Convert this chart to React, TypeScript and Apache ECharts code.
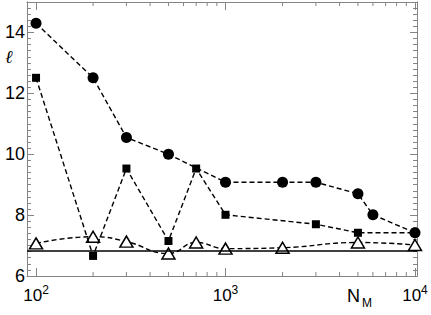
import React, { useEffect, useRef } from 'react';
import * as echarts from 'echarts';

// Data
const nCircles = [100, 200, 300, 500, 1000, 2000, 3000, 5000, 6000, 10000];
const lCircles = [14.3, 12.51, 10.55, 10.0, 9.08, 9.08, 9.08, 8.7, 8.01, 7.42];
const nSquares = [100, 200, 300, 500, 700, 1000, 3000, 5000, 10000];
const lSquares = [12.51, 6.66, 9.53, 7.15, 9.53, 8.01, 7.7, 7.42, 7.42];
const nTriangles = [100, 200, 300, 500, 700, 1000, 2000, 5000, 10000];
const lTriangles = [7.07, 7.29, 7.13, 6.74, 7.1, 6.9, 6.93, 7.1, 7.02];
const referenceLevel = 6.83;
const yTickLabels = [6, 8, 10, 12, 14];
const xMinorTicks = [200, 300, 400, 500, 600, 700, 800, 900, 2000, 3000, 4000, 5000, 6000, 7000, 8000, 9000];

const X_MIN = 89.6;
const X_MAX = 10250;
const Y_MIN = 6;
const Y_MAX = 15;
const AXIS_COLOR = '#858585';
const FONT = 'Liberation Sans, Arial, Helvetica, sans-serif';

const xLabel = (v: number) => {
  const e = Math.log10(v);
  if (Math.abs(e - Math.round(e)) < 1e-6) return `{b|10}{s|${Math.round(e)}}`;
  return '';
};

export default function App() {
  const ref = useRef<HTMLDivElement>(null);
  useEffect(() => {
    if (!ref.current) return;
    const chart = echarts.init(ref.current, undefined, { renderer: 'svg' });
    const baseX = {
      type: 'log',
      logBase: 10,
      min: X_MIN,
      max: X_MAX,
      axisLine: { show: true, lineStyle: { color: AXIS_COLOR, width: 1 } },
      axisTick: { show: true, inside: true, length: 8, lineStyle: { color: AXIS_COLOR } },
      splitLine: { show: false },
      minorTick: { show: false },
    };
    const baseY = {
      type: 'value',
      min: Y_MIN,
      max: Y_MAX,
      axisLine: { show: true, lineStyle: { color: AXIS_COLOR, width: 1 } },
      splitLine: { show: false },
    };
    const dashed = { type: [5, 3], color: '#000', width: 1.4 };
    chart.setOption({
      animation: false,
      grid: { left: 27, right: 14, top: 2, bottom: 39, containLabel: false },
      xAxis: [
        {
          ...baseX,
          position: 'bottom',
          axisLabel: {
            show: true,
            margin: 8,
            color: '#000',
            formatter: xLabel,
            rich: {
              b: { fontSize: 17, fontFamily: FONT, color: '#000' },
              s: { fontSize: 12, fontFamily: FONT, color: '#000', padding: [0, 0, 10, 0] },
            },
          },
        },
        { ...baseX, position: 'top', axisLabel: { show: false } },
      ],
      yAxis: [
        {
          ...baseY,
          position: 'left',
          interval: 2,
          axisTick: { show: true, inside: true, length: 7, lineStyle: { color: AXIS_COLOR } },
          axisLabel: {
            show: true,
            margin: 2,
            fontSize: 18,
            fontFamily: FONT,
            color: '#000',
            formatter: (v: number) => (yTickLabels.includes(v) ? String(v) : ''),
          },
        },
        {
          ...baseY,
          position: 'left',
          interval: 0.2,
          axisTick: { show: true, inside: true, length: 4, lineStyle: { color: AXIS_COLOR } },
          axisLabel: { show: false },
        },
        {
          ...baseY,
          position: 'right',
          interval: 2,
          axisTick: { show: true, inside: true, length: 7, lineStyle: { color: AXIS_COLOR } },
          axisLabel: { show: false },
        },
        {
          ...baseY,
          position: 'right',
          interval: 0.2,
          axisTick: { show: true, inside: true, length: 4, lineStyle: { color: AXIS_COLOR } },
          axisLabel: { show: false },
        },
      ],
      series: [
        {
          type: 'custom',
          silent: true,
          clip: false,
          xAxisIndex: 0,
          yAxisIndex: 0,
          data: xMinorTicks.map((n) => [n, Y_MIN]),
          encode: { x: 0, y: 1 },
          renderItem: (params: any, api: any) => {
            const n = api.value(0);
            const top = api.coord([n, Y_MAX]);
            const bot = api.coord([n, Y_MIN]);
            const style = { stroke: AXIS_COLOR, lineWidth: 1 };
            return {
              type: 'group',
              children: [
                { type: 'line', shape: { x1: top[0], y1: top[1], x2: top[0], y2: top[1] + 4 }, style },
                { type: 'line', shape: { x1: bot[0], y1: bot[1], x2: bot[0], y2: bot[1] - 4 }, style },
              ],
            };
          },
          z: 1,
        },
        {
          name: 'triangles',
          type: 'line',
          data: nTriangles.map((n, i) => [n, lTriangles[i]]),
          smooth: 0.5,
          symbol: 'triangle',
          symbolSize: [13, 11],
          lineStyle: dashed,
          itemStyle: { color: '#fff', borderColor: '#000', borderWidth: 1.5 },
          markLine: {
            silent: true,
            symbol: 'none',
            label: { show: false },
            lineStyle: { type: 'solid', color: '#000', width: 1.6 },
            data: [{ yAxis: referenceLevel }],
          },
          z: 3,
        },
        {
          name: 'squares',
          type: 'line',
          data: nSquares.map((n, i) => [n, lSquares[i]]),
          symbol: 'rect',
          symbolSize: 8,
          lineStyle: dashed,
          itemStyle: { color: '#000' },
          z: 4,
        },
        {
          name: 'circles',
          type: 'line',
          data: nCircles.map((n, i) => [n, lCircles[i]]),
          symbol: 'circle',
          symbolSize: 11,
          lineStyle: dashed,
          itemStyle: { color: '#000' },
          z: 5,
        },
      ],
      graphic: [
        { type: 'text', left: 5, top: 47, style: { text: 'ℓ', font: 'italic 18px DejaVu Serif', fill: '#000' } },
        { type: 'text', left: 347, top: 287, style: { text: 'N', font: '18px ' + FONT, fill: '#000' } },
        { type: 'text', left: 362, top: 297, style: { text: 'M', font: '12px ' + FONT, fill: '#000' } },
      ],
    });
    return () => chart.dispose();
  }, []);
  return (
    <div
      ref={ref}
      style={{ position: 'fixed', left: 0, top: 0, width: 431, height: 315, background: '#fff' }}
    />
  );
}
